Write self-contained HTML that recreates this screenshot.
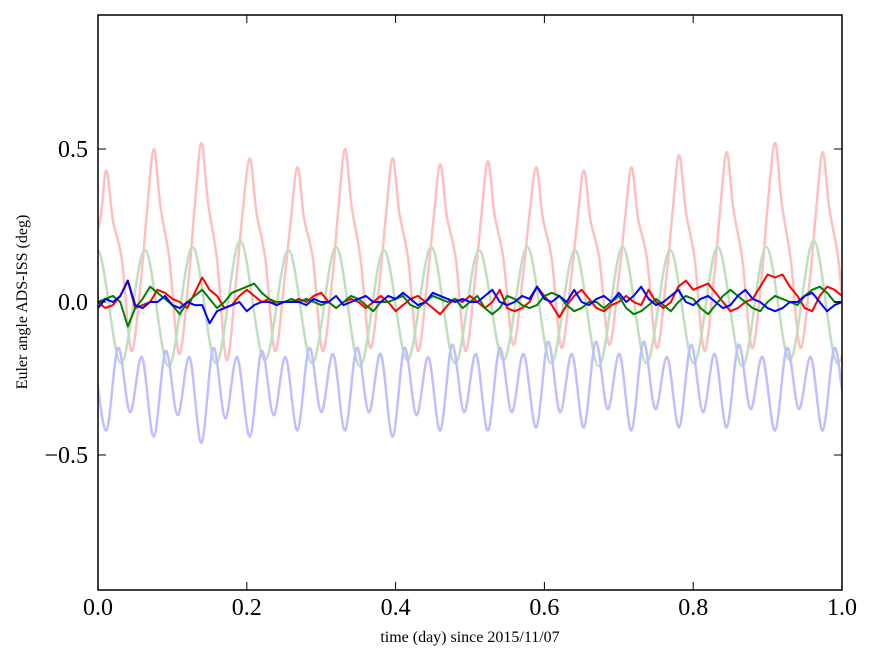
<!DOCTYPE html>
<html><head><meta charset="utf-8"><style>
body{margin:0;background:#fff}
svg{display:block;font-family:"Liberation Serif",serif}
</style></head><body>
<svg id="chart" width="875" height="662" viewBox="0 0 875 662">
<defs><clipPath id="plotclip"><rect x="98" y="15" width="744" height="575"/></clipPath></defs>
<rect x="0" y="0" width="875" height="662" fill="#fff"/>
<g id="faint" clip-path="url(#plotclip)"></g>
<g id="dark" clip-path="url(#plotclip)"></g>
<rect x="98" y="15" width="744" height="575" fill="none" stroke="#000" stroke-width="1.5"/>
<g id="axes"></g>
<text x="470" y="642" text-anchor="middle" font-size="16">time (day) since 2015/11/07</text>
<text x="27" y="302" text-anchor="middle" font-size="16" transform="rotate(-90 27 302)">Euler angle ADS-ISS (deg)</text>
</svg>
<script>
const xTicks=[0,0.2,0.4,0.6,0.8,1.0];
const xTickLabels=["0.0","0.2","0.4","0.6","0.8","1.0"];
const yTicks=[0.5,0,-0.5];
const yTickLabels=["0.5","0.0","\u22120.5"];
const redPeakT=[0.011,0.075,0.139,0.204,0.268,0.332,0.396,0.460,0.524,0.589,0.653,0.717,0.781,0.845,0.910,0.974];
const redPeakV=[0.43,0.50,0.52,0.47,0.44,0.50,0.47,0.45,0.46,0.44,0.43,0.44,0.48,0.49,0.52,0.49];
const redTroughV=[-0.16,-0.17,-0.19,-0.16,-0.16,-0.15,-0.16,-0.16,-0.14,-0.15,-0.14,-0.15,-0.16,-0.15,-0.15,-0.16];
const greenPeakT=[-0.001,0.063,0.127,0.191,0.256,0.320,0.384,0.448,0.512,0.577,0.641,0.705,0.769,0.833,0.898,0.962,1.026];
const greenPeakV=[0.17,0.17,0.18,0.20,0.17,0.18,0.17,0.18,0.17,0.18,0.17,0.18,0.17,0.18,0.18,0.20,0.18];
const greenTroughV=[-0.20,-0.20,-0.21,-0.20,-0.19,-0.20,-0.21,-0.19,-0.20,-0.19,-0.20,-0.21,-0.20,-0.20,-0.21,-0.19,-0.20];
const blueDeepV=[-0.42,-0.44,-0.46,-0.44,-0.42,-0.42,-0.44,-0.42,-0.42,-0.41,-0.41,-0.42,-0.41,-0.41,-0.42,-0.42];
const blueShallowV=[-0.36,-0.37,-0.38,-0.37,-0.36,-0.36,-0.37,-0.36,-0.36,-0.36,-0.35,-0.35,-0.36,-0.35,-0.35,-0.36];
const blueMaxAV=[-0.15,-0.16,-0.15,-0.16,-0.15,-0.15,-0.15,-0.14,-0.15,-0.13,-0.13,-0.13,-0.14,-0.14,-0.15,-0.15];
const blueMaxBV=[-0.18,-0.18,-0.18,-0.18,-0.17,-0.17,-0.18,-0.17,-0.17,-0.17,-0.17,-0.18,-0.17,-0.18,-0.18,-0.18];
const darkT=Array.from({length:101},(_,i)=>i/100);
const redDark=[0.0,-0.02,-0.01,0.02,0.07,-0.02,-0.01,0.0,0.04,0.03,0.01,0.0,-0.02,0.03,0.08,0.04,0.02,-0.02,-0.01,0.02,0.04,0.02,0.0,0.01,-0.01,0.0,0.0,0.01,0.0,0.02,0.03,0.0,-0.02,0.0,0.01,0.0,-0.02,0.0,0.02,0.0,-0.03,-0.01,0.01,0.02,0.0,-0.02,-0.04,-0.01,0.01,0.0,0.02,0.0,-0.02,0.0,0.04,-0.02,-0.03,-0.02,0.0,0.05,0.02,-0.01,-0.05,-0.01,0.02,0.04,0.01,-0.02,-0.03,-0.01,0.0,0.02,0.0,-0.01,0.04,0.0,-0.02,0.0,0.05,0.07,0.04,0.05,0.06,0.03,0.0,-0.03,-0.02,0.0,0.01,0.05,0.09,0.08,0.09,0.05,0.02,-0.02,-0.03,0.02,0.05,0.04,0.02];
const greenDark=[0.0,0.01,0.02,0.0,-0.08,-0.02,0.01,0.05,0.03,0.01,-0.01,-0.04,0.0,0.02,0.04,0.01,-0.02,0.0,0.03,0.04,0.05,0.06,0.03,0.01,0.0,0.0,0.01,0.0,0.01,0.0,-0.01,0.0,-0.02,0.0,0.02,0.01,-0.01,-0.03,0.0,0.0,0.01,0.02,-0.01,-0.02,0.0,0.02,0.01,0.0,0.01,-0.02,0.0,0.02,-0.02,-0.04,-0.02,0.02,0.01,-0.01,-0.02,-0.01,0.02,0.03,0.02,-0.01,-0.03,-0.02,0.0,0.0,-0.02,0.0,0.02,-0.02,-0.04,-0.03,-0.01,0.01,-0.01,-0.03,0.0,0.02,0.01,-0.02,-0.04,-0.01,0.02,0.04,0.02,0.0,-0.02,-0.03,0.0,0.02,0.01,0.0,-0.01,0.02,0.04,0.05,0.03,0.0,0.0];
const blueDark=[-0.02,0.01,0.0,0.02,0.07,-0.01,-0.02,0.0,0.0,0.02,-0.01,-0.02,0.0,-0.01,-0.01,-0.07,-0.03,-0.02,-0.01,0.0,-0.03,-0.01,0.0,0.0,-0.01,0.0,0.0,0.0,-0.01,0.01,0.0,0.0,0.02,-0.01,0.0,0.01,0.02,0.0,0.0,0.02,0.01,0.03,0.01,-0.01,0.0,0.03,0.02,0.01,0.0,0.01,0.0,0.0,0.02,0.04,0.0,-0.01,0.0,0.02,0.01,0.05,0.01,0.0,0.02,0.0,0.04,0.0,-0.01,0.01,0.02,0.0,0.03,0.0,0.02,0.05,0.01,-0.01,0.0,0.02,0.04,0.0,-0.01,0.01,0.02,0.0,-0.02,-0.01,0.02,0.04,0.01,0.0,-0.02,-0.03,-0.02,0.0,0.0,0.02,0.03,0.0,-0.03,-0.01,0.0];

const NS='http://www.w3.org/2000/svg';
const X=t=>98+744*t;
const Y=v=>302-306*v;
function smooth(pts){
  let d='M'+X(pts[0][0]).toFixed(1)+','+Y(pts[0][1]).toFixed(1);
  for(let i=0;i<pts.length-1;i++){
    const p0=pts[Math.max(0,i-1)],p1=pts[i],p2=pts[i+1],p3=pts[Math.min(pts.length-1,i+2)];
    const c1x=X(p1[0])+(X(p2[0])-X(p0[0]))/6,c1y=Y(p1[1])+(Y(p2[1])-Y(p0[1]))/6;
    const c2x=X(p2[0])-(X(p3[0])-X(p1[0]))/6,c2y=Y(p2[1])-(Y(p3[1])-Y(p1[1]))/6;
    d+='C'+c1x.toFixed(1)+','+c1y.toFixed(1)+' '+c2x.toFixed(1)+','+c2y.toFixed(1)+' '+X(p2[0]).toFixed(1)+','+Y(p2[1]).toFixed(1);
  }
  return d;
}
function addPath(g,d,color,w,name){
  const p=document.createElementNS(NS,'path');
  p.setAttribute('d',d);p.setAttribute('fill','none');p.setAttribute('stroke',color);
  p.setAttribute('stroke-width',w);p.setAttribute('stroke-linejoin','round');
  
  
  g.appendChild(p);
}
const faint=document.getElementById('faint'),dark=document.getElementById('dark');
let rp=[[redPeakT[0]-0.03,0.1],[redPeakT[0]-0.009,redPeakV[0]*0.6]];
for(let k=0;k<redPeakT.length;k++){
  const p=redPeakT[k],P=redPeakV[k],Pn=k+1<redPeakV.length?redPeakV[k+1]:P;
  rp.push([p,P],[p+0.009,P*0.62],[p+0.021,0.14],[p+0.034,redTroughV[k]],[p+0.047,0.08],[p+0.055,Pn*0.6]);
}
addPath(faint,smooth(rp),'#ffbfbf',2.5,'x-angle-raw-line');
let gp=[];
for(let k=0;k<greenPeakT.length;k++){
  gp.push([greenPeakT[k]-0.032,greenTroughV[k]],[greenPeakT[k],greenPeakV[k]]);
}
addPath(faint,smooth(gp),'#bfdfbf',2.5,'y-angle-raw-line');
let bp=[[redPeakT[0]-0.016,blueMaxBV[0]]];
for(let k=0;k<redPeakT.length;k++){
  const p=redPeakT[k];
  bp.push([p,blueDeepV[k]],[p+0.016,blueMaxAV[k]],[p+0.032,blueShallowV[k]],[p+0.048,blueMaxBV[k]]);
}
addPath(faint,smooth(bp),'#bfbfff',2.5,'z-angle-raw-line');
function line(vals){return vals.map((v,i)=>(i?'L':'M')+X(darkT[i]).toFixed(1)+','+Y(v).toFixed(1)).join('');}
addPath(dark,line(redDark),'#ff0000',2,'x-angle-filtered-line');
addPath(dark,line(greenDark),'#008000',2,'y-angle-filtered-line');
addPath(dark,line(blueDark),'#0000ff',2,'z-angle-filtered-line');
const ax=document.getElementById('axes');
function mk(tag,attrs,name,txt){
  const e=document.createElementNS(NS,tag);
  for(const k in attrs)e.setAttribute(k,attrs[k]);
  
  
  if(txt!==undefined)e.textContent=txt;
  ax.appendChild(e);return e;
}
xTicks.forEach((t,i)=>{
  const x=X(t);
  mk('line',{x1:x,x2:x,y1:590,y2:582,stroke:'#000','stroke-width':1},'x-tick');
  mk('line',{x1:x,x2:x,y1:15,y2:23,stroke:'#000','stroke-width':1},'x-tick-top');
  mk('text',{x:x,y:615,'text-anchor':'middle','font-size':24},'x-tick-label',xTickLabels[i]);
});
yTicks.forEach((v,i)=>{
  const y=Y(v);
  mk('line',{x1:98,x2:106,y1:y,y2:y,stroke:'#000','stroke-width':1},'y-tick');
  mk('line',{x1:842,x2:834,y1:y,y2:y,stroke:'#000','stroke-width':1},'y-tick-right');
  mk('text',{x:88,y:y+8,'text-anchor':'end','font-size':24},'y-tick-label',yTickLabels[i]);
});
</script>
</body></html>
